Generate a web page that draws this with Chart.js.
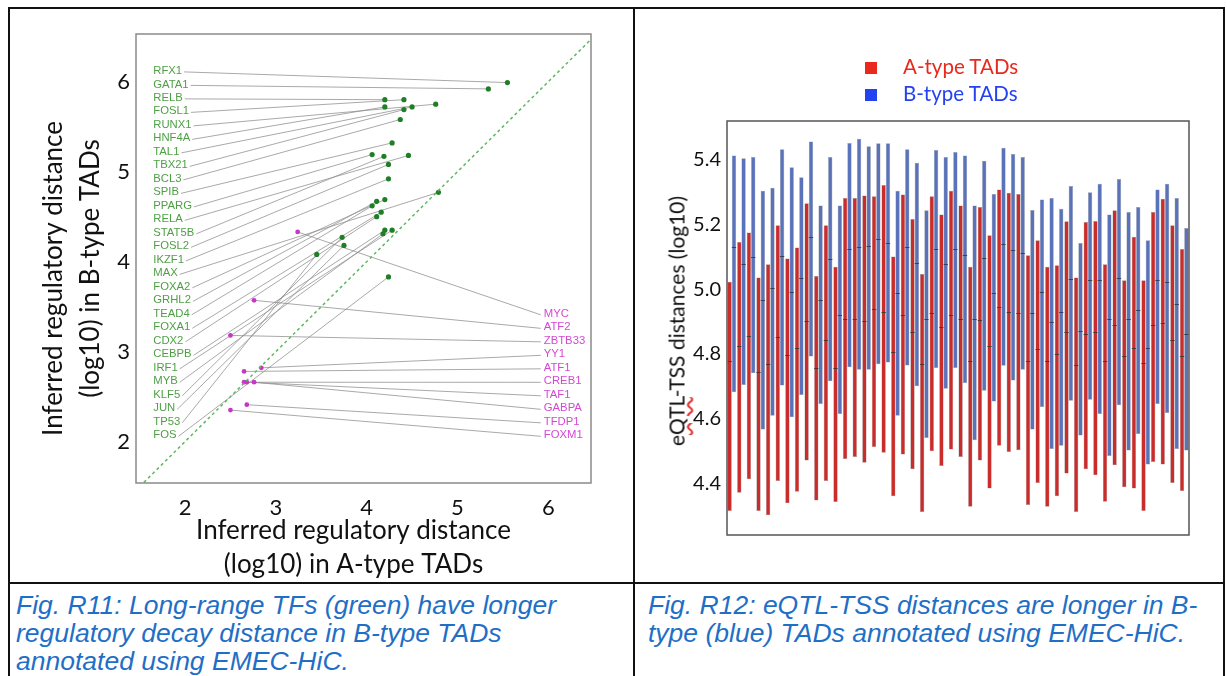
<!DOCTYPE html>
<html>
<head>
<meta charset="utf-8">
<script src="https://cdn.jsdelivr.net/npm/chart.js@4.4.1/dist/chart.umd.min.js"></script>
<style>
  body { margin: 0; background: #fff; }
  #page { position: relative; width: 1227px; height: 676px; overflow: hidden; background: #fff; }
  canvas { position: absolute; top: 0; }
  .rule { position: absolute; background: #111; z-index: 5; }
  .caption { position: absolute; top: 591px; font: italic 26.5px "Liberation Sans", Arial, sans-serif;
             line-height: 28px; color: #1f6fc6; white-space: nowrap; }
  .legend { position: absolute; left: 865px; font: 20.5px Lato, sans-serif; line-height: 24px; }
  .legend span.box { display: inline-block; width: 12px; height: 12px; margin-right: 26px; vertical-align: 0px; }
  #rightTitle { position: absolute; left: 676px; top: 321px; transform: translate(-50%, -50%) rotate(-90deg);
                font: 21px Lato, sans-serif; color: #111; white-space: nowrap; }
  #rightTitle .sq { text-decoration: underline wavy #e03030; text-underline-offset: 2px; }
</style>
</head>
<body>
<div id="page">
  <canvas id="chartLeft" width="634" height="582" style="left:0"></canvas>
  <canvas id="chartRight" width="592" height="582" style="left:635px"></canvas>

  <div class="rule" style="left:8px; top:7px; width:1217px; height:2px"></div>
  <div class="rule" style="left:8px; top:7px; width:2px; height:669px"></div>
  <div class="rule" style="left:1223px; top:7px; width:2px; height:669px"></div>
  <div class="rule" style="left:633px; top:7px; width:2px; height:669px"></div>
  <div class="rule" style="left:8px; top:582px; width:1217px; height:2px"></div>

  <div class="legend" style="top:54px; color:#e8291c"><span class="box" style="background:#e8291c"></span>A-type TADs</div>
  <div class="legend" style="top:81px; color:#2442f0"><span class="box" style="background:#2442f0"></span>B-type TADs</div>
  <div id="rightTitle">e<span class="sq">QTL</span>-TSS distances (log10)</div>

  <div class="caption" style="left:16px">Fig. R11: Long-range TFs (green) have longer<br>regulatory decay distance in B-type TADs<br>annotated using EMEC-HiC.</div>
  <div class="caption" style="left:648px">Fig. R12: eQTL-TSS distances are longer in B-<br>type (blue) TADs annotated using EMEC-HiC.</div>
</div>

<script>
// ---- Fig. R11: inferred regulatory distance (log10), A-type vs B-type TADs ----
const greenNames = ["RFX1", "GATA1", "RELB", "FOSL1", "RUNX1", "HNF4A", "TAL1", "TBX21", "BCL3", "SPIB",
  "PPARG", "RELA", "STAT5B", "FOSL2", "IKZF1", "MAX", "FOXA2", "GRHL2", "TEAD4", "FOXA1",
  "CDX2", "CEBPB", "IRF1", "MYB", "KLF5", "JUN", "TP53", "FOS"];
const greenA = [5.55, 5.34, 4.20, 4.41, 4.76, 4.20, 4.50, 4.41, 4.37, 4.28,
  4.06, 4.46, 4.19, 4.24, 4.24, 4.79, 4.20, 4.11, 4.06, 4.16,
  4.11, 4.20, 4.28, 4.18, 3.73, 3.75, 3.45, 4.24];
const greenB = [5.99, 5.92, 5.80, 5.80, 5.75, 5.72, 5.72, 5.69, 5.58, 5.32,
  5.19, 5.18, 5.17, 5.08, 4.92, 4.77, 4.69, 4.67, 4.62, 4.55,
  4.50, 4.35, 4.35, 4.31, 4.27, 4.18, 4.08, 3.83];

const magentaNames = ["MYC", "ATF2", "ZBTB33", "YY1", "ATF1", "CREB1", "TAF1", "GABPA", "TFDP1", "FOXM1"];
const magentaA = [3.24, 2.76, 2.50, 2.84, 2.65, 2.65, 2.68, 2.76, 2.68, 2.50];
const magentaB = [4.33, 3.57, 3.18, 2.82, 2.78, 2.66, 2.66, 2.66, 2.41, 2.35];

const leftXTicks = [2, 3, 4, 5, 6];
const leftYTicks = [2, 3, 4, 5, 6];

// ---- Fig. R12: eQTL-TSS distance ranges (log10) per TAD pair ----
const tadIds = ["1", "2", "3", "4", "5", "6", "7", "8", "9", "10", "11", "12", "13", "14", "15", "16",
  "17", "18", "19", "20", "21", "22", "23", "24", "25", "26", "27", "28", "29", "30", "31", "32",
  "33", "34", "35", "36", "37", "38", "39", "40", "41", "42", "43", "44", "45", "46", "47", "48"];
const aLow = [4.314, 4.371, 4.412, 4.314, 4.301, 4.407, 4.338, 4.374, 4.470, 4.347, 4.407, 4.342,
  4.475, 4.481, 4.463, 4.512, 4.494, 4.360, 4.489, 4.443, 4.311, 4.499, 4.453, 4.504,
  4.481, 4.327, 4.470, 4.384, 4.516, 4.497, 4.502, 4.333, 4.401, 4.327, 4.360, 4.430,
  4.311, 4.443, 4.425, 4.343, 4.456, 4.388, 4.384, 4.314, 4.466, 4.458, 4.401, 4.376];
const aHigh = [5.023, 5.146, 5.175, 5.036, 5.077, 5.198, 5.095, 5.129, 5.266, 5.041, 5.198, 5.069,
  5.282, 5.282, 5.290, 5.287, 5.322, 5.101, 5.293, 5.217, 5.047, 5.287, 5.231, 5.304,
  5.259, 5.069, 5.254, 5.167, 5.308, 5.298, 5.294, 5.105, 5.151, 5.069, 5.074, 5.210,
  5.036, 5.208, 5.211, 5.077, 5.244, 5.028, 5.162, 5.028, 5.239, 5.280, 5.198, 5.124];
const aMed = [4.779, 4.825, 4.856, 4.743, 4.769, 4.851, 4.797, 4.817, 4.903, 4.756, 4.843, 4.756,
  4.908, 4.908, 4.903, 4.939, 4.930, 4.805, 4.920, 4.867, 4.768, 4.925, 4.883, 4.920,
  4.908, 4.779, 4.905, 4.825, 4.944, 4.930, 4.925, 4.779, 4.815, 4.779, 4.801, 4.867,
  4.766, 4.862, 4.867, 4.779, 4.889, 4.794, 4.817, 4.771, 4.889, 4.894, 4.843, 4.794];
const bLow = [4.681, 4.704, 4.740, 4.566, 4.609, 4.702, 4.604, 4.673, 4.792, 4.645, 4.715, 4.614,
  4.759, 4.751, 4.751, 4.768, 4.773, 4.609, 4.764, 4.700, 4.540, 4.756, 4.692, 4.756,
  4.710, 4.533, 4.686, 4.653, 4.763, 4.718, 4.751, 4.566, 4.636, 4.506, 4.516, 4.655,
  4.548, 4.658, 4.614, 4.484, 4.641, 4.501, 4.552, 4.458, 4.645, 4.617, 4.506, 4.501];
const bHigh = [5.413, 5.405, 5.409, 5.304, 5.314, 5.433, 5.377, 5.346, 5.457, 5.259, 5.409, 5.259,
  5.452, 5.465, 5.442, 5.451, 5.451, 5.304, 5.433, 5.391, 5.244, 5.430, 5.409, 5.424,
  5.413, 5.259, 5.397, 5.294, 5.437, 5.418, 5.409, 5.245, 5.277, 5.282, 5.249, 5.319,
  5.143, 5.300, 5.326, 5.231, 5.341, 5.239, 5.254, 5.151, 5.308, 5.326, 5.282, 5.189];
const bMed = [5.129, 5.079, 5.101, 4.968, 5.004, 5.102, 4.991, 5.036, 5.162, 4.968, 5.092, 4.920,
  5.124, 5.129, 5.134, 5.154, 5.143, 4.987, 5.129, 5.082, 4.908, 5.124, 5.078, 5.124,
  5.105, 4.907, 5.095, 4.987, 5.139, 5.120, 5.111, 4.926, 4.992, 4.900, 4.930, 5.033,
  4.871, 5.028, 5.028, 4.908, 5.036, 4.908, 4.936, 4.817, 5.028, 5.023, 4.954, 4.862];
const rightYTicks = [4.4, 4.6, 4.8, 5.0, 5.2, 5.4];

// label column layout (in data units of the left chart)
const labelTop = 6.12;
const labelStep = 0.15;
const greenLabelX = 1.65;
const magentaLabelX = 5.95;
const magentaFirstRow = 18;

const tickFont = { family: "Lato, sans-serif", size: 22 };

const frame = (color, width) => ({
  id: "frame",
  afterDraw(chart) {
    const { ctx, chartArea: a } = chart;
    ctx.save();
    ctx.strokeStyle = color;
    ctx.lineWidth = width;
    ctx.strokeRect(a.left, a.top, a.right - a.left, a.bottom - a.top);
    ctx.restore();
  },
});

const tfLabels = {
  id: "tfLabels",
  beforeDatasetsDraw(chart) {
    const { ctx, scales: { x, y } } = chart;
    ctx.save();
    ctx.font = '11.3px "Liberation Sans", Arial, sans-serif';
    ctx.textBaseline = "middle";
    ctx.lineWidth = 1;
    ctx.strokeStyle = "rgba(140,140,140,0.75)";

    greenNames.forEach((name, i) => {
      const lx = x.getPixelForValue(greenLabelX);
      const ly = y.getPixelForValue(labelTop - labelStep * i);
      const w = ctx.measureText(name).width;
      ctx.beginPath();
      ctx.moveTo(lx + w + 2, ly + 1);
      ctx.lineTo(x.getPixelForValue(greenA[i]), y.getPixelForValue(greenB[i]));
      ctx.stroke();
      ctx.fillStyle = "#4f9f45";
      ctx.textAlign = "left";
      ctx.fillText(name, lx, ly);
    });

    magentaNames.forEach((name, i) => {
      const lx = x.getPixelForValue(magentaLabelX);
      const ly = y.getPixelForValue(labelTop - labelStep * (magentaFirstRow + i));
      ctx.beginPath();
      ctx.moveTo(x.getPixelForValue(magentaA[i]), y.getPixelForValue(magentaB[i]));
      ctx.lineTo(lx - 3, ly + 1);
      ctx.stroke();
      ctx.fillStyle = "#d448d4";
      ctx.textAlign = "left";
      ctx.fillText(name, lx, ly);
    });
    ctx.restore();
  },
};

new Chart(document.getElementById("chartLeft"), {
  type: "scatter",
  data: {
    datasets: [
      {
        data: [{ x: 1.5, y: 1.5 }, { x: 6.5, y: 6.5 }],
        showLine: true,
        borderColor: "#5cb85c",
        borderWidth: 1.5,
        borderDash: [3, 3],
        pointRadius: 0,
      },
      {
        data: greenA.map((a, i) => ({ x: a, y: greenB[i] })),
        backgroundColor: "#1f7f26",
        borderWidth: 0,
        pointRadius: 2.6,
      },
      {
        data: magentaA.map((a, i) => ({ x: a, y: magentaB[i] })),
        backgroundColor: "#c736c7",
        borderWidth: 0,
        pointRadius: 2.4,
      },
    ],
  },
  options: {
    responsive: false,
    animation: false,
    layout: { padding: { top: 34, right: 43, bottom: 0, left: 0 } },
    plugins: { legend: { display: false }, tooltip: { enabled: false } },
    scales: {
      x: {
        type: "linear",
        min: 1.46,
        max: 6.47,
        afterBuildTicks: (s) => { s.ticks = leftXTicks.map((v) => ({ value: v })); },
        afterFit: (s) => { s.height = 99; },
        grid: { display: false, drawTicks: false },
        border: { display: false },
        ticks: { padding: 12, color: "#111", font: tickFont },
        title: {
          display: true,
          // trailing spaces nudge the centred title slightly left, as in the original
          text: ["Inferred regulatory distance   ", "(log10) in A-type TADs   "],
          color: "#111",
          font: { family: "Lato, sans-serif", size: 26, lineHeight: 1.31 },
          padding: { top: 0, bottom: 0 },
        },
      },
      y: {
        type: "linear",
        min: 1.54,
        max: 6.53,
        afterBuildTicks: (s) => { s.ticks = leftYTicks.map((v) => ({ value: v })); },
        afterFit: (s) => { s.width = 136; },
        grid: { display: false, drawTicks: false },
        border: { display: false },
        ticks: { padding: 6, color: "#111", font: tickFont },
        title: {
          display: true,
          text: ["Inferred regulatory distance      ", "(log10) in B-type TADs   "],
          color: "#111",
          font: { family: "Lato, sans-serif", size: 26, lineHeight: 1.42 },
          padding: { top: 35, bottom: 0 },
        },
      },
    },
  },
  plugins: [tfLabels, frame("#8a8a8a", 1.5)],
});

const medians = {
  id: "medians",
  afterDatasetsDraw(chart) {
    const { ctx, scales: { y } } = chart;
    ctx.save();
    ctx.strokeStyle = "rgba(50,50,50,0.8)";
    ctx.lineWidth = 1;
    [aMed, bMed].forEach((med, d) => {
      chart.getDatasetMeta(d).data.forEach((bar, i) => {
        const py = Math.round(y.getPixelForValue(med[i])) + 0.5;
        ctx.beginPath();
        ctx.moveTo(bar.x - bar.width / 2, py);
        ctx.lineTo(bar.x + bar.width / 2, py);
        ctx.stroke();
      });
    });
    ctx.restore();
  },
};

new Chart(document.getElementById("chartRight"), {
  type: "bar",
  data: {
    labels: tadIds,
    datasets: [
      {
        label: "A-type TADs",
        data: aLow.map((lo, i) => [lo, aHigh[i]]),
        backgroundColor: "#c92d2b",
        borderColor: "rgba(110,110,110,0.7)",
        borderWidth: 0.5,
        borderSkipped: false,
      },
      {
        label: "B-type TADs",
        data: bLow.map((lo, i) => [lo, bHigh[i]]),
        backgroundColor: "#5a72b9",
        borderColor: "rgba(110,110,110,0.7)",
        borderWidth: 0.5,
        borderSkipped: false,
      },
    ],
  },
  options: {
    responsive: false,
    animation: false,
    layout: { padding: { top: 121, right: 38, bottom: 47, left: 0 } },
    datasets: { bar: { categoryPercentage: 0.9, barPercentage: 1 } },
    plugins: { legend: { display: false }, tooltip: { enabled: false } },
    scales: {
      x: { display: false },
      y: {
        min: 4.24,
        max: 5.52,
        afterBuildTicks: (s) => { s.ticks = rightYTicks.map((v) => ({ value: v })); },
        afterFit: (s) => { s.width = 92; },
        grid: { display: false, drawTicks: false },
        border: { display: false },
        ticks: {
          padding: 6,
          color: "#111",
          font: { family: "Lato, sans-serif", size: 20 },
          callback: (v) => Number(v).toFixed(1),
        },
      },
    },
  },
  plugins: [medians, frame("#555", 1.5)],
});
</script>
</body>
</html>
